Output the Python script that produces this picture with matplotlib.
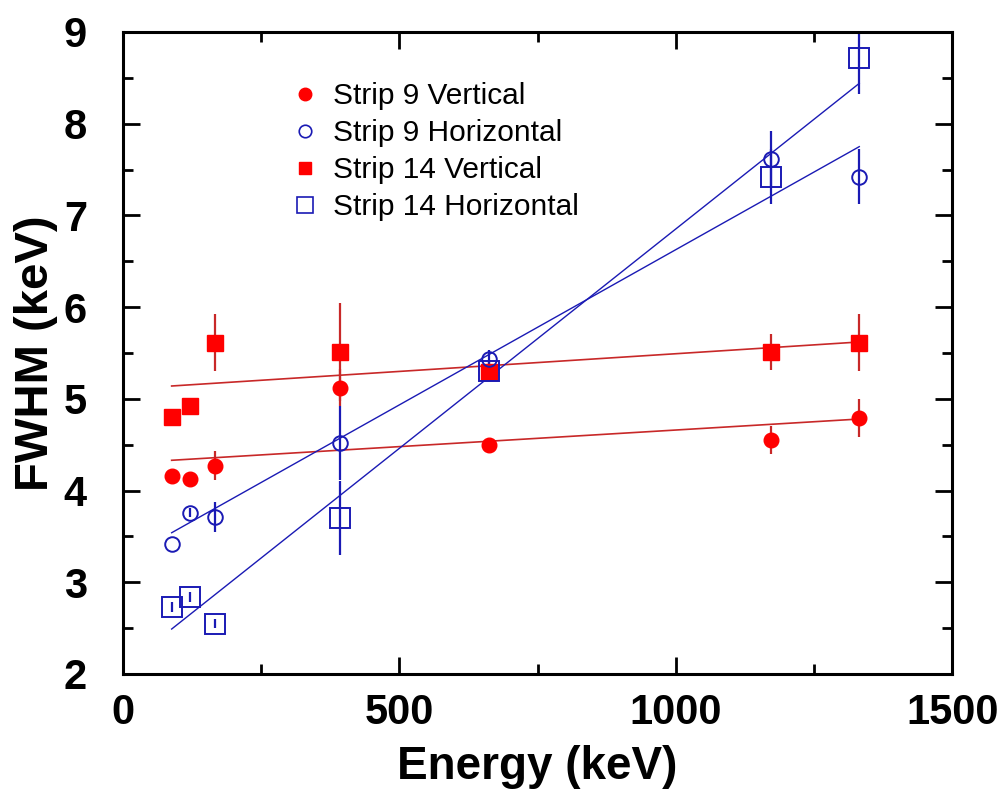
import matplotlib.pyplot as plt
from matplotlib.lines import Line2D
from matplotlib.ticker import MultipleLocator
import numpy as np

plt.rcParams['font.family'] = ['Liberation Sans', 'DejaVu Sans']

energy = np.array([88, 122, 166, 392, 662, 1173, 1332])

s9_vert = [4.16, 4.13, 4.27, 5.12, 4.50, 4.55, 4.79]
s9_vert_err = [0.0, 0.0, 0.16, 0.20, 0.0, 0.15, 0.21]
s9_horz = [3.42, 3.76, 3.71, 4.52, 5.43, 7.62, 7.42]
s9_horz_err = [0.0, 0.05, 0.16, 0.40, 0.1, 0.30, 0.30]
s14_vert = [4.80, 4.92, 5.61, 5.51, 5.29, 5.51, 5.61]
s14_vert_err = [0.0, 0.05, 0.31, 0.53, 0.0, 0.20, 0.31]
s14_horz = [2.73, 2.84, 2.55, 3.70, 5.30, 7.42, 8.72]
s14_horz_err = [0.05, 0.05, 0.05, 0.40, 0.1, 0.30, 0.40]

# fitted lines, end values
fit_x = [88, 1332]
fit_s9_vert = [4.33, 4.78]
fit_s14_vert = [5.14, 5.62]
fit_s9_horz = [3.54, 7.75]
fit_s14_horz = [2.49, 8.44]

red = '#ff0000'
red_line = '#c82828'
blue = '#1a1ab4'

fig = plt.figure(figsize=(10.05, 7.96), dpi=100)
ax = fig.add_axes([0.1224, 0.1533, 0.825, 0.8065])

ax.plot(fit_x, fit_s9_vert, color=red_line, lw=1.2)
ax.plot(fit_x, fit_s14_vert, color=red_line, lw=1.2)
ax.plot(fit_x, fit_s9_horz, color=blue, lw=1.0)
ax.plot(fit_x, fit_s14_horz, color=blue, lw=1.0)

ax.errorbar(energy, s9_vert, yerr=s9_vert_err, fmt='o', ms=10.5, color=red,
            ecolor=red_line, elinewidth=1.6, capsize=0)
ax.errorbar(energy, s14_vert, yerr=s14_vert_err, fmt='s', ms=11, color=red,
            ecolor=red_line, elinewidth=1.6, capsize=0)
ax.errorbar(energy, s9_horz, yerr=s9_horz_err, fmt='o', ms=10.5, mfc='none',
            mec=blue, mew=1.4, ecolor=blue, elinewidth=1.6, capsize=0)
ax.errorbar(energy, s14_horz, yerr=s14_horz_err, fmt='s', ms=14, mfc='none',
            mec=blue, mew=1.4, ecolor=blue, elinewidth=1.6, capsize=0)

ax.set_xlim(0, 1500)
ax.set_ylim(2, 9)
ax.xaxis.set_major_locator(MultipleLocator(500))
ax.xaxis.set_minor_locator(MultipleLocator(250))
ax.yaxis.set_major_locator(MultipleLocator(1))
ax.yaxis.set_minor_locator(MultipleLocator(0.5))
ax.tick_params(which='both', direction='in', top=True, right=True, width=2)
ax.tick_params(which='major', length=12, labelsize=30)
ax.tick_params(axis='x', which='major', pad=14)
ax.tick_params(axis='y', which='major', pad=26)
ax.tick_params(which='minor', length=7)
for lab in ax.get_xticklabels() + ax.get_yticklabels():
    lab.set_fontweight('bold')
for sp in ax.spines.values():
    sp.set_linewidth(2.2)

ax.set_xlabel('Energy (keV)', fontsize=33, fontweight='bold', labelpad=8)
ax.set_ylabel('FWHM (keV)', fontsize=34, fontweight='bold', labelpad=4)

handles = [
    Line2D([], [], ls='none', marker='o', ms=9, color=red),
    Line2D([], [], ls='none', marker='o', ms=9, mfc='none', mec=blue, mew=1.2),
    Line2D([], [], ls='none', marker='s', ms=9, color=red),
    Line2D([], [], ls='none', marker='s', ms=11, mfc='none', mec=blue, mew=1.2),
]
labels = ['Strip 9 Vertical', 'Strip 9 Horizontal', 'Strip 14 Vertical', 'Strip 14 Horizontal']
ax.legend(handles, labels, loc='upper left', bbox_to_anchor=(0.187, 0.945), frameon=False,
          fontsize=21.5, handlelength=0.8, handletextpad=0.55, labelspacing=0.3,
          borderpad=0)

fig.savefig('out.png', dpi=100)
